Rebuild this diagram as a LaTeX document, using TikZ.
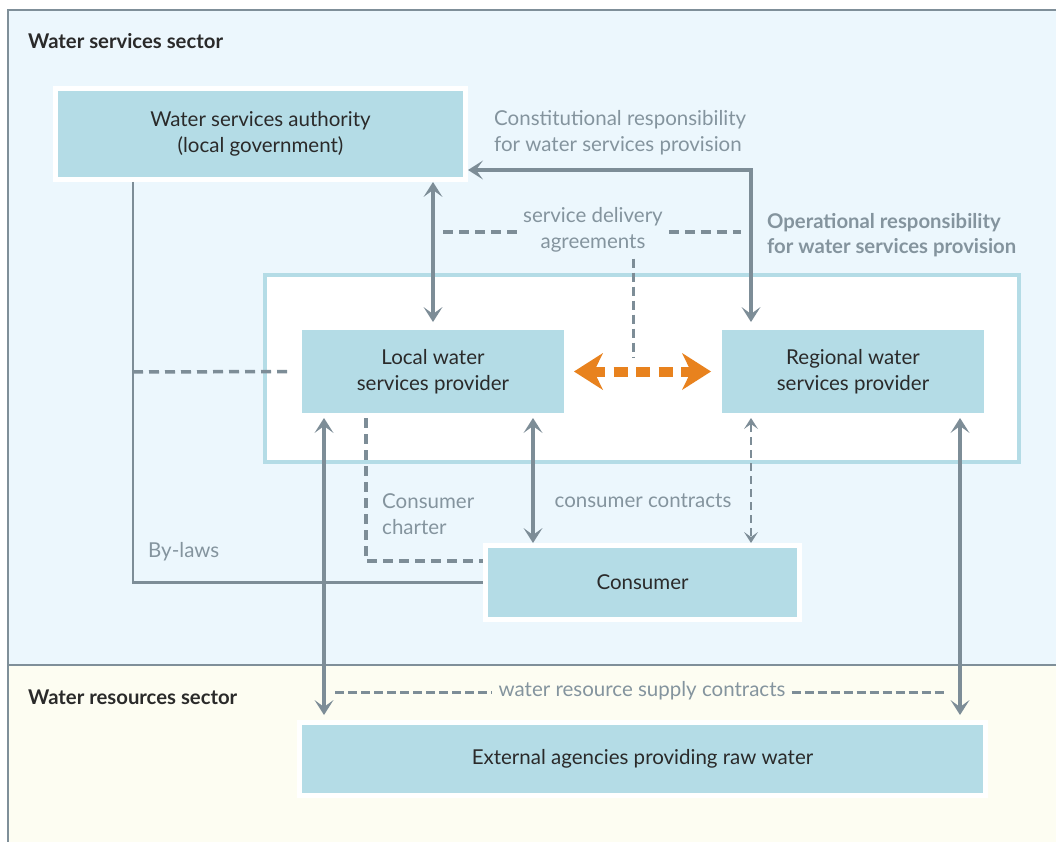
\documentclass[tikz,border=0pt]{standalone}
\usepackage{fontspec}
\setmainfont{Lato}
\usetikzlibrary{arrows.meta}

\definecolor{topbg}{HTML}{ECF7FD}
\definecolor{botbg}{HTML}{FDFDF2}
\definecolor{boxfill}{HTML}{B4DCE6}
\definecolor{frame}{HTML}{7F8F99}
\definecolor{link}{HTML}{7D8D97}
\definecolor{label}{HTML}{84949E}
\definecolor{ink}{HTML}{2A2A2A}
\definecolor{flow}{HTML}{E8821E}

\newcommand{\bodyfont}{\fontsize{20.5}{26}\selectfont}
\newcommand{\headfont}{\fontsize{20.3}{25.5}\selectfont\bfseries}

\tikzset{
  box/.style={fill=boxfill, draw=white, line width=5pt, inner sep=0pt,
    align=center, font=\bodyfont, text=ink},
  tag/.style={font=\bodyfont, text=label, inner sep=0pt},
  sectorname/.style={font=\headfont, text=ink, inner sep=0pt, anchor=west},
  gtip/.tip={Stealth[length=15pt,width=19pt,inset=7pt,line width=0pt]},
  stip/.tip={Stealth[length=11pt,width=14pt,inset=5pt,line width=0pt]},
  otip/.tip={Stealth[length=29pt,width=37pt,inset=9pt,line width=0pt]},
  biarrow/.style={draw=link, line width=4.5pt, gtip-gtip},
  dashlink/.style={draw=link, line width=3.5pt, dash pattern=on 10pt off 6pt},
  fineline/.style={draw=link, line width=2.5pt},
}

\begin{document}
\begin{tikzpicture}[x=1pt,y=-1pt]
\useasboundingbox (0,0) rectangle (1056,842);

% sector backgrounds and frame
\fill[topbg] (8,10) rectangle (1056,665);
\fill[botbg] (8,665) rectangle (1056,842);
\draw[frame, line width=2.5pt] (1056,10) -- (8,10) -- (8,842);
\draw[frame, line width=2.5pt] (8,665) -- (1056,665);

\node[sectorname] (wss) at (28,41) {Water services sector};
\node[sectorname] (wrs) at (28,697) {Water resources sector};

% operational zone
\node[fill=white, draw=boxfill, line width=4pt, minimum width=754pt,
      minimum height=187pt, inner sep=0pt] (zone) at (642,368.5) {};

% boxes
\node[box, minimum width=410pt, minimum height=91pt] (wsa) at (260.5,134)
  {Water services authority\\(local government)};
\node[box, minimum width=267pt, minimum height=88pt] (lwsp) at (433,371.5)
  {Local water\\services provider};
\node[box, minimum width=267pt, minimum height=88pt] (rwsp) at (853,371.5)
  {Regional water\\services provider};
\node[box, minimum width=314pt, minimum height=74pt] (cons) at (642.5,582.5)
  {Consumer};
\node[box, minimum width=686pt, minimum height=73pt] (ext) at (642.5,759)
  {External agencies providing raw water};

% labels
\node[tag, anchor=west, align=left] (const) at (494,133)
  {Constitutional responsibility\\for water services provision};
\node[font=\headfont, text=label, inner sep=0pt, anchor=west, align=left] (oper) at (767,235)
  {Operational responsibility\\for water services provision};
\node[tag, align=center] (sda) at (593,230) {service delivery\\agreements};
\node[tag, anchor=west] (bylaws) at (148,552) {By-laws};
\node[tag, anchor=west, align=left] (charter) at (382,514) {Consumer\\charter};
\node[tag] (contracts) at (643,501) {consumer contracts};
\node[tag, fill=botbg, inner xsep=6pt] (supply) at (642,691) {water resource supply contracts};

% helper coordinates
\coordinate (cr) at (751,170);
\coordinate (bl) at (133,372);
\coordinate (cc) at (366,561);
\coordinate (cx) at (533,500);
\coordinate (rx) at (751,500);
\coordinate (lx) at (324,500);
\coordinate (ex) at (960,500);
\coordinate (om) at (633,372);
\coordinate (sl) at (443,232);
\coordinate (sr) at (741,232);
\coordinate (wl) at (335,692);
\coordinate (wr) at (945,692);

% authority links
\draw[biarrow] (wsa.south -| lwsp.north) -- ([yshift=3pt]lwsp.north);
\draw[biarrow] (wsa.east |- cr) -- (cr) -- ([yshift=3pt]cr |- rwsp.north);

% service delivery agreements
\draw[dashlink] (sl) -- ([xshift=-4pt]sda.west |- sl);
\draw[dashlink] ([xshift=6pt]sda.east |- sr) -- (sr);
\draw[dashlink, line width=3pt, dash pattern=on 9pt off 5pt] (om |- sda.south) ++(0,6) -- ([yshift=14pt]om);

% provider cooperation
\draw[flow, line width=10pt, dash pattern=on 14pt off 8.5pt, dash phase=3pt, otip-otip]
  ([xshift=5pt]lwsp.east) -- ([xshift=-6pt]rwsp.west);

% by-laws
\draw[dashlink] (bl) -- ([xshift=-5pt]lwsp.west);
\draw[fineline] (wsa.south -| bl) -- (bl |- cons.west) -- (cons.west);

% consumer charter
\draw[dashlink] (lwsp.south -| cc) -- (cc) -- (cons.west |- cc);

% consumer contracts
\draw[biarrow] (lwsp.south -| cx) -- (cx |- cons.north);
\draw[draw=link, line width=2.5pt, dash pattern=on 8pt off 5pt, stip-stip]
  (rwsp.south -| rx) -- (rx |- cons.north);

% raw water supply
\draw[biarrow] (lwsp.south -| lx) -- ([yshift=5pt]lx |- ext.north);
\draw[biarrow] (rwsp.south -| ex) -- ([yshift=5pt]ex |- ext.north);
\draw[dashlink, line width=3pt, dash pattern=on 9pt off 4pt] (wl) -- (supply.west |- wl);
\draw[dashlink, line width=3pt, dash pattern=on 9pt off 4pt] (supply.east |- wr) -- (wr);
\end{tikzpicture}
\end{document}
